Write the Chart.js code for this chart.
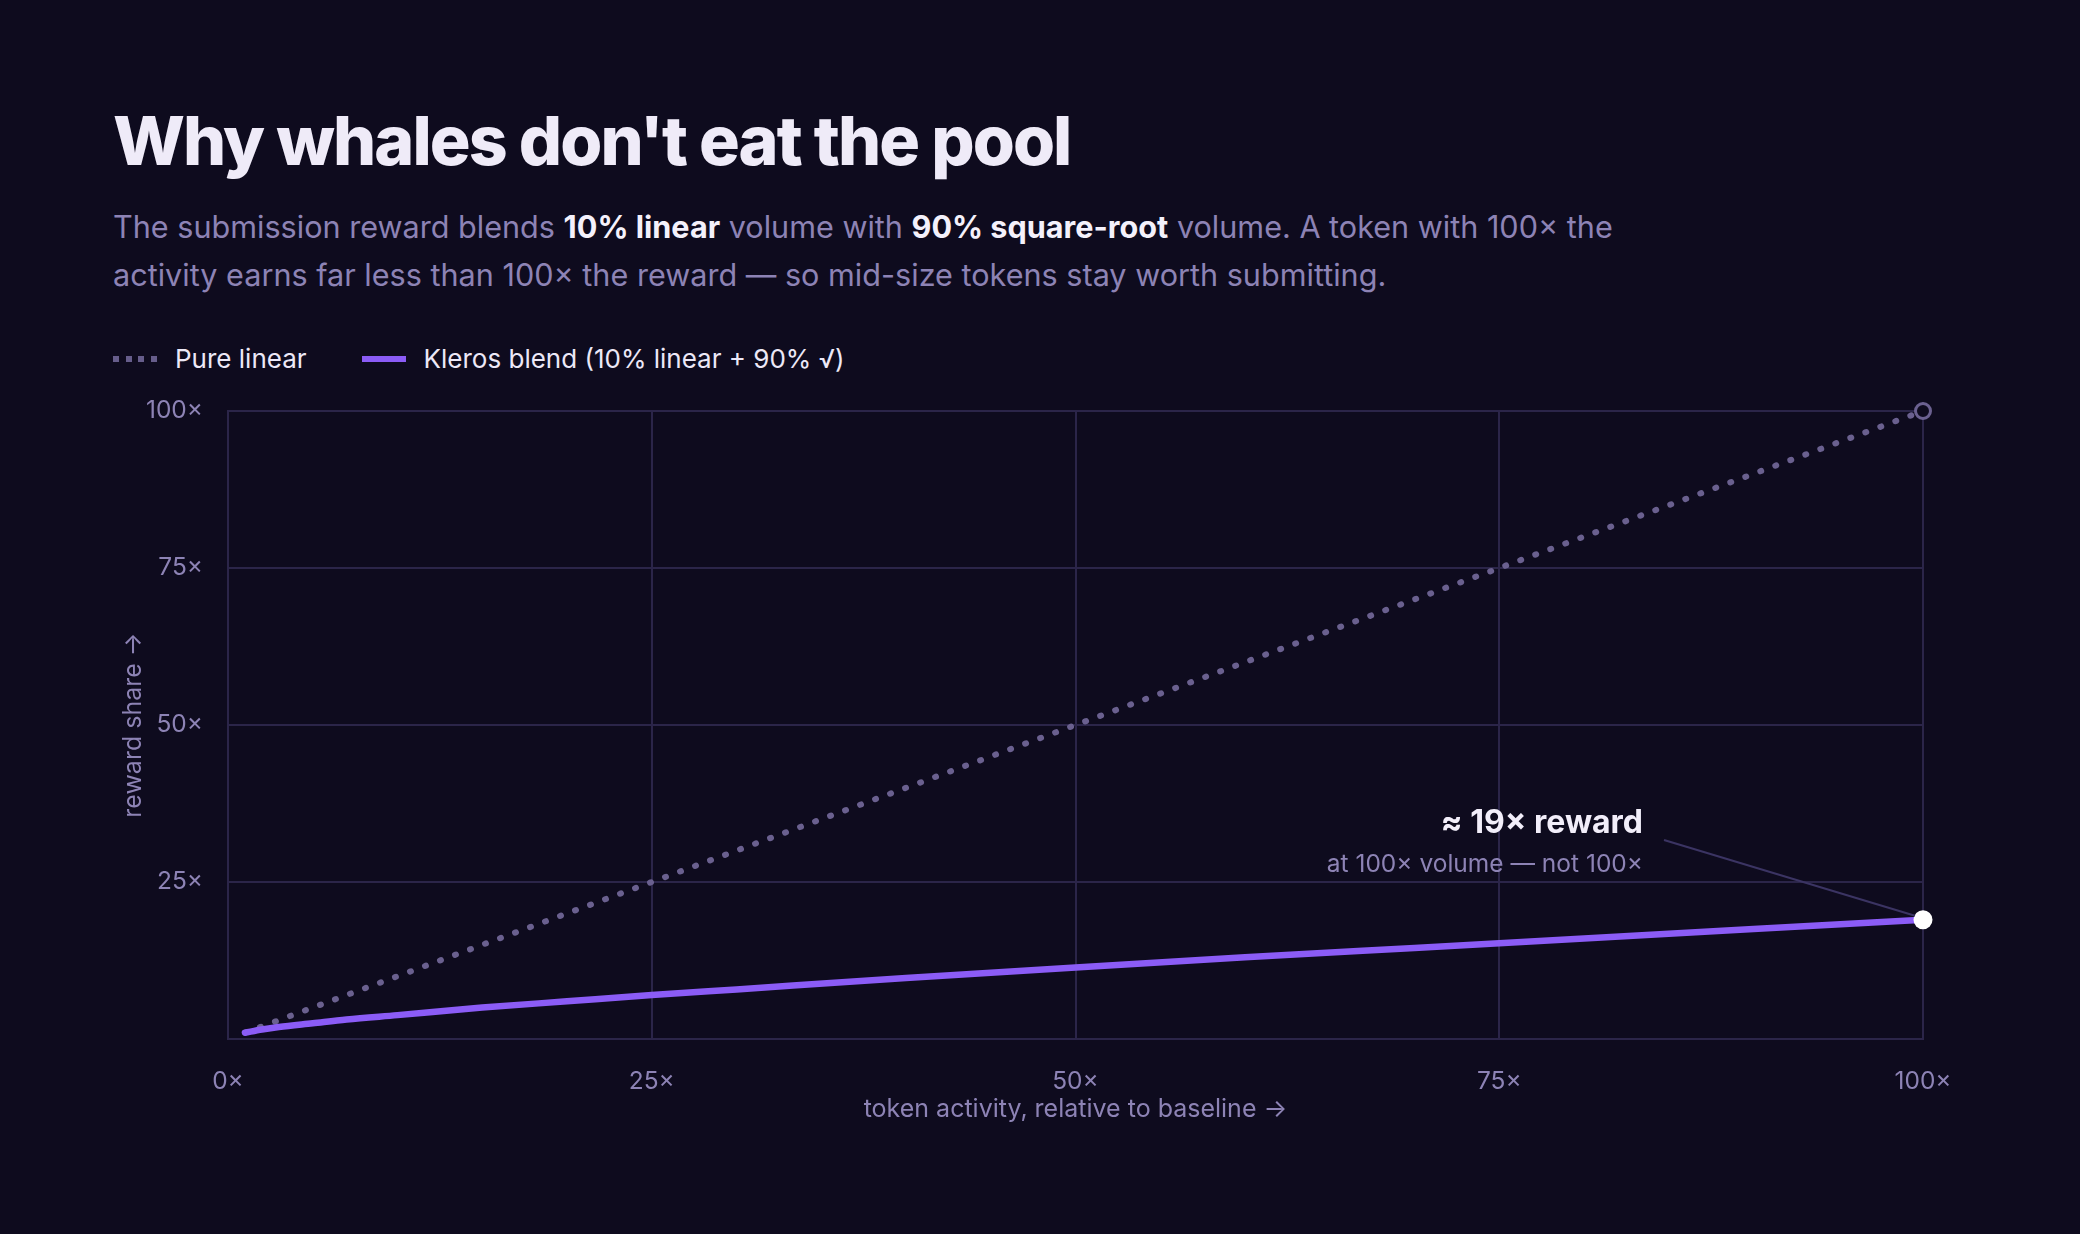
<!DOCTYPE html>
<html>
<head>
<meta charset="utf-8">
<script src="https://cdn.jsdelivr.net/npm/chart.js@4.4.1/dist/chart.umd.min.js"></script>
<style>
  html, body { margin: 0; padding: 0; background: #0e0b1e; }
  body { width: 2080px; height: 1234px; position: relative; overflow: hidden; font-family: Inter, "Noto Sans", sans-serif; }
  #title { position: absolute; left: 113px; top: 106px; margin: 0; font-size: 68px; font-weight: 800; letter-spacing: -1.9px; color: #efebf8; line-height: 1; }
  #sub { position: absolute; left: 113px; top: 203px; margin: 0; font-size: 30.6px; line-height: 48px; color: #8d83b5; font-weight: 400; letter-spacing: 0; }
  #sub b { color: #f4f1fb; font-weight: 700; }
  #legend { position: absolute; left: 113px; top: 343px; display: flex; align-items: center; font-size: 26px; color: #ece8f7; }
  .item { display: flex; align-items: center; margin-right: 55px; }
  .sw { width: 44px; height: 6px; margin-right: 18px; }
  .dots { background: repeating-linear-gradient(90deg, #665d8b 0 6px, transparent 6px 12.5px); }
  .bar { background: #8b5cf6; height: 6px; }
  #c { position: absolute; left: 0; top: 0; }
</style>
</head>
<body>
<h1 id="title">Why whales don't eat the pool</h1>
<p id="sub">The submission reward blends <b>10% linear</b> volume with <b>90% square-root</b> volume. A token with 100× the<br>activity earns far less than 100× the reward — so mid-size tokens stay worth submitting.</p>
<div id="legend">
  <div class="item"><div class="sw dots"></div><span>Pure linear</span></div>
  <div class="item"><div class="sw bar"></div><span>Kleros blend (10% linear + 90% √)</span></div>
</div>
<canvas id="c" width="2080" height="1234"></canvas>
<script>
// Data
const activity = [1, 2, 3, 5, 7, 10, 15, 20, 25, 30, 40, 50, 60, 70, 80, 90, 100];
const pureLinear = [1, 2, 3, 5, 7, 10, 15, 20, 25, 30, 40, 50, 60, 70, 80, 90, 100];
const klerosBlend = [1.0, 1.5, 1.9, 2.5, 3.1, 3.8, 5.0, 6.0, 7.0, 7.9, 9.7, 11.4, 13.0, 14.5, 16.0, 17.5, 19.0];
const xTicks = [0, 25, 50, 75, 100];
const yTicks = [25, 50, 75, 100];
const seriesNames = ["Pure linear", "Kleros blend (10% linear + 90% √)"];
const annotationTitle = "≈ 19× reward";
const annotationSub = "at 100× volume — not 100×";
const xTitle = "token activity, relative to baseline →";
const yTitle = "reward share →";

const BG = "#0e0b1e";
const GRID = "#2b2549";
const TICK = "#8d83b5";
const lastIdx = activity.length - 1;

const overlay = {
  id: "overlay",
  afterDatasetsDraw(chart) {
    const { ctx, chartArea, scales } = chart;
    const xs = scales.x, ys = scales.y;
    ctx.save();
    ctx.fillStyle = TICK;
    ctx.font = "400 25px Inter, 'Noto Sans', sans-serif";
    ctx.textAlign = "center";
    ctx.textBaseline = "middle";
    ctx.fillText(xTitle, (chartArea.left + chartArea.right) / 2, 1109);
    ctx.save();
    ctx.translate(133, (chartArea.top + chartArea.bottom) / 2);
    ctx.rotate(-Math.PI / 2);
    ctx.fillText(yTitle, 0, 0);
    ctx.restore();
    const px = xs.getPixelForValue(activity[lastIdx]);
    const py = ys.getPixelForValue(klerosBlend[lastIdx]);
    ctx.strokeStyle = "#3b3463";
    ctx.lineWidth = 2;
    ctx.beginPath();
    ctx.moveTo(1664, 840);
    ctx.lineTo(px - 8, py - 4);
    ctx.stroke();
    ctx.textAlign = "right";
    ctx.textBaseline = "alphabetic";
    ctx.fillStyle = "#f2eefa";
    ctx.font = "700 32px Inter, 'Noto Sans', sans-serif";
    ctx.fillText(annotationTitle, 1643, 833);
    ctx.fillStyle = TICK;
    ctx.font = "400 24.5px Inter, 'Noto Sans', sans-serif";
    ctx.fillText(annotationSub, 1643, 872);
    ctx.restore();
  }
};

new Chart(document.getElementById("c"), {
  type: "line",
  data: {
    datasets: [
      {
        label: seriesNames[0],
        data: activity.map((x, i) => ({ x, y: pureLinear[i] })),
        borderColor: "#6a608f",
        borderWidth: 6,
        borderDash: [1, 15],
        borderCapStyle: "round",
        pointRadius: (c) => c.dataIndex === lastIdx ? 7.5 : 0,
        pointBackgroundColor: BG,
        pointBorderColor: "#6b6190",
        pointBorderWidth: 3,
        tension: 0,
        clip: false,
        order: 2
      },
      {
        label: seriesNames[1],
        data: activity.map((x, i) => ({ x, y: klerosBlend[i] })),
        borderColor: "#8b5cf6",
        borderWidth: 6.5,
        borderCapStyle: "round",
        pointRadius: (c) => c.dataIndex === lastIdx ? 9.5 : 0,
        pointBackgroundColor: "#ffffff",
        pointBorderColor: "#ffffff",
        pointBorderWidth: 0,
        cubicInterpolationMode: "monotone",
        clip: false,
        order: 1
      }
    ]
  },
  options: {
    responsive: false,
    animation: false,
    devicePixelRatio: 1,
    layout: { padding: { left: 100, right: 157, top: 411, bottom: 95 } },
    plugins: { legend: { display: false }, tooltip: { enabled: false } },
    scales: {
      x: {
        type: "linear",
        min: 0, max: 100,
        afterFit(s) { s.height = 100; },
        afterBuildTicks(s) { s.ticks = xTicks.map(v => ({ value: v })); },
        grid: { color: GRID, lineWidth: 2, drawTicks: false },
        border: { color: GRID, width: 2 },
        ticks: { color: TICK, padding: 28, font: { family: "Inter, 'Noto Sans', sans-serif", size: 24.5 }, callback: (v) => v + "×" }
      },
      y: {
        type: "linear",
        min: 0, max: 100,
        afterFit(s) { s.width = 128; },
        afterBuildTicks(s) { s.ticks = [0].concat(yTicks).map(v => ({ value: v })); },
        grid: { color: GRID, lineWidth: 2, drawTicks: false },
        border: { color: GRID, width: 2 },
        ticks: { color: TICK, padding: 25, font: { family: "Inter, 'Noto Sans', sans-serif", size: 24.5 }, callback: (v) => v === 0 ? "" : v + "×" }
      }
    }
  },
  plugins: [overlay]
});
</script>
</body>
</html>
